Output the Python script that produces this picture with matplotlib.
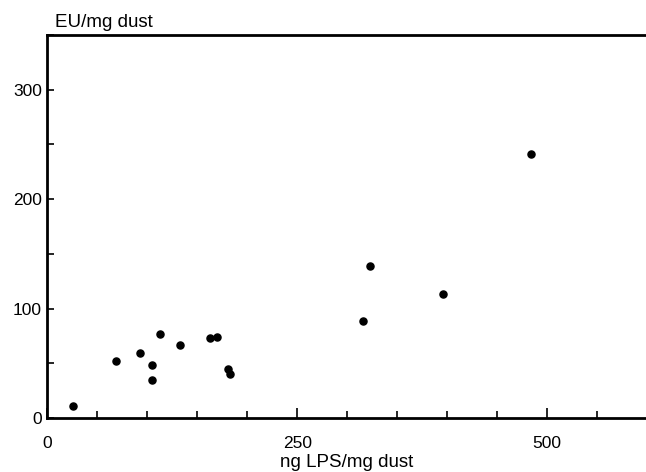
import matplotlib.pyplot as plt
import numpy as np

plt.rcParams['font.family'] = ['Liberation Sans', 'DejaVu Sans']

# ng LPS/mg dust vs EU/mg dust
lps = [26, 69, 93, 105, 105, 113, 133, 163, 170, 181, 183, 316, 323, 396, 484]
eu = [11, 52, 59, 48, 35, 77, 67, 73, 74, 45, 40, 89, 138.5, 113.5, 241]

fig = plt.figure(figsize=(6.46, 4.72), dpi=100)
ax = fig.add_axes([0.0735, 0.1144, 0.9265, 0.8114])

ax.scatter(lps, eu, s=26, color="black", zorder=3)

ax.set_xlim(0, 599)
ax.set_ylim(0, 350)

ax.set_xticks([0, 250, 500])
ax.set_xticks(np.arange(0, 600, 50), minor=True)
ax.set_yticks([0, 100, 200, 300])
ax.set_yticks(np.arange(0, 351, 50), minor=True)

ax.tick_params(which="both", direction="in", width=1.2, labelsize=12.5)
ax.tick_params(axis="x", which="major", length=7, pad=13)
ax.tick_params(axis="x", which="minor", length=5)
ax.tick_params(axis="y", which="both", length=5, pad=4)

for s in ["left", "bottom", "top"]:
    ax.spines[s].set_linewidth(2)
ax.spines["right"].set_visible(False)

fig.text(55 / 646, 1 - 27 / 472, "EU/mg dust", fontsize=13.5,
         ha="left", va="baseline")
fig.text(347 / 646, 5 / 472, "ng LPS/mg dust", fontsize=13.5,
         ha="center", va="baseline")

fig.savefig("out.png", dpi=100)
